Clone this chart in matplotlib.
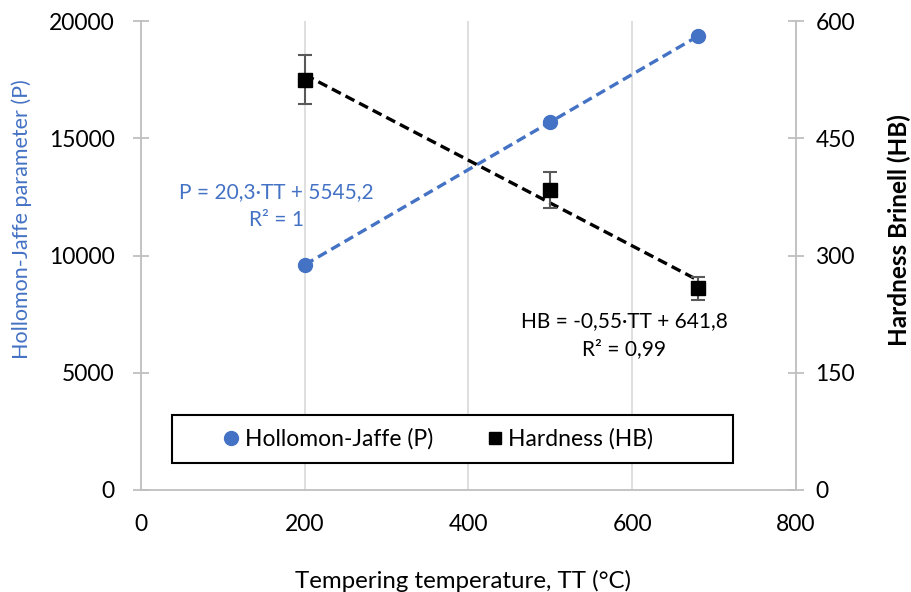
import numpy as np
import matplotlib
matplotlib.use("Agg")
import matplotlib.pyplot as plt
from matplotlib.lines import Line2D
from matplotlib.patches import Rectangle

plt.rcParams['font.family'] = ['Lato', 'DejaVu Sans']

temps = [200, 500, 680]
hollomon_p = [9605, 15695, 19349]
hardness_hb = [525, 384, 258]
hardness_err = [31, 23, 15]

x_ticks = [0, 200, 400, 600, 800]
p_ticks = [0, 5000, 10000, 15000, 20000]
hb_ticks = [0, 150, 300, 450, 600]

blue = '#4472C4'
grid_gray = '#D9D9D9'
axis_gray = '#BFBFBF'

fig = plt.figure(figsize=(9.12, 5.92), dpi=100)
ax = fig.add_axes([0.1546, 0.1723, 0.7182, 0.7922])
ax2 = ax.twinx()

ax.set_xlim(0, 800)
ax.set_ylim(0, 20000)
ax2.set_ylim(0, 600)
ax.set_xticks(x_ticks)
ax.set_yticks(p_ticks)
ax2.set_yticks(hb_ticks)

ax.xaxis.grid(True, color=grid_gray, lw=1.2)
ax.set_axisbelow(True)

for a in (ax, ax2):
    a.spines['top'].set_visible(False)
    for s in ('left', 'right', 'bottom'):
        a.spines[s].set_color(axis_gray)
        a.spines[s].set_linewidth(1.3)
ax.spines['right'].set_visible(False)
ax2.spines['left'].set_visible(False)
ax2.spines['bottom'].set_visible(False)

ax.tick_params(axis='x', length=0, labelsize=16.5, pad=17, colors='black')
ax.tick_params(axis='y', direction='inout', length=12, width=1.3, color=axis_gray,
               labelsize=16.5, pad=13)
ax2.tick_params(axis='y', direction='inout', length=12, width=1.3, color=axis_gray,
                labelsize=16.5, pad=8)

# linear trendlines
tt = np.array(temps, dtype=float)
cp = np.polyfit(tt, hollomon_p, 1)
ch = np.polyfit(tt, hardness_hb, 1)
ax.plot(tt, np.polyval(cp, tt), ls=(0, (3, 1.6)), color=blue, lw=2.4, zorder=2)
ax2.plot(tt, np.polyval(ch, tt), ls=(0, (3, 1.6)), color='black', lw=2.4, zorder=2)

ax.plot(temps, hollomon_p, 'o', color=blue, ms=10, zorder=3)
ax2.errorbar(temps, hardness_hb, yerr=hardness_err, fmt='s', color='black', ms=10,
             ecolor='#595959', elinewidth=1.5, capsize=5, capthick=1.5, zorder=3)

# trendline equations
ax.text(165, 12708, 'P = 20,3·TT + 5545,2', color=blue, fontsize=15,
        ha='center', va='center')
ax.text(166, 11514, 'R² = 1', color=blue, fontsize=15, ha='center', va='center')
ax2.text(590, 216, 'HB = -0,55·TT + 641,8', color='black', fontsize=15,
         ha='center', va='center')
ax2.text(590, 180, 'R² = 0,99', color='black', fontsize=15, ha='center', va='center')

ax.set_xlabel('Tempering temperature, TT (°C)', fontsize=17.3)
ax.xaxis.set_label_coords(0.491, -0.17)
ax.set_ylabel('Hollomon-Jaffe parameter (P)', fontsize=15.5, color=blue)
ax.yaxis.set_label_coords(-0.1664, 0.578)
ax2.set_ylabel('Hardness Brinell (HB)', fontsize=17.5, fontweight='bold')
ax2.yaxis.set_label_coords(1.139, 0.554)

# legend box
ax2.add_patch(Rectangle((0.0473, 0.0576), 0.8565, 0.1024, transform=ax2.transAxes,
                        facecolor='white', edgecolor='black', lw=1.5, zorder=4))
handles = [
    Line2D([], [], ls='none', marker='o', color=blue, ms=10),
    Line2D([], [], ls='none', marker='s', color='black', ms=9),
]
leg = ax2.legend(handles, ['Hollomon-Jaffe (P)', 'Hardness (HB)'], ncol=2,
                 loc='center', bbox_to_anchor=(0.451, 0.109), frameon=False,
                 fontsize=16.5, handletextpad=0.1, columnspacing=2.2,
                 handlelength=1.0, borderaxespad=0)
leg.set_zorder(5)

fig.savefig('out.png', dpi=100)
